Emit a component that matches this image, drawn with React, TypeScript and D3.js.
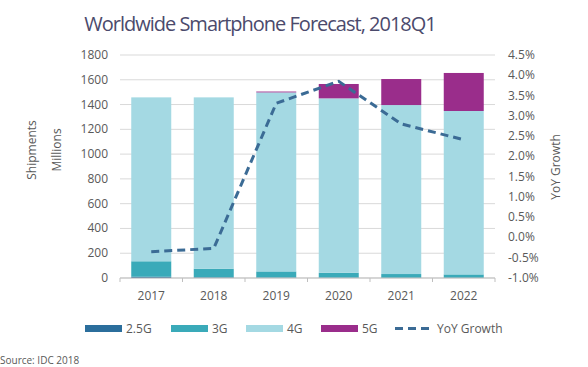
import React from "react";
import * as d3 from "d3";

const years = ["2017", "2018", "2019", "2020", "2021", "2022"];
const g25 = [10, 5, 3, 2, 1, 1];
const g3 = [125, 70, 50, 40, 31, 28];
const g4 = [1323, 1383, 1445, 1408, 1364, 1319];
const g5 = [0, 0, 7, 116, 210, 307];
const yoy = [-0.35, -0.27, 3.31, 3.85, 2.8, 2.41];
const leftTicks = [0, 200, 400, 600, 800, 1000, 1200, 1400, 1600, 1800];
const rightTicks = [-1, -0.5, 0, 0.5, 1, 1.5, 2, 2.5, 3, 3.5, 4, 4.5];

const seriesKeys = ["2.5G", "3G", "4G", "5G"];
const colors: Record<string, string> = {
  "2.5G": "#2b6e9c",
  "3G": "#3aaab9",
  "4G": "#a4d9e3",
  "5G": "#9a2d8b",
};
const lineColor = "#3b6b95";
const font = "'Open Sans', 'Noto Sans', sans-serif";

export default function App() {
  const left = 120, right = 495, top = 55, bottom = 278;

  const x = d3.scaleBand().domain(years).range([left, right]).paddingInner(0.36).paddingOuter(0.18);
  const y = d3.scaleLinear().domain([0, 1800]).range([bottom, top]);
  const y2 = d3.scaleLinear().domain([-1, 4.5]).range([bottom, top]);

  const rows = years.map((yr, i) => ({ year: yr, "2.5G": g25[i], "3G": g3[i], "4G": g4[i], "5G": g5[i] }));
  const stacked = d3.stack<any>().keys(seriesKeys)(rows);

  const line = d3
    .line<number>()
    .x((_, i) => (x(years[i]) as number) + x.bandwidth() / 2)
    .y((d) => y2(d));

  const step = x.step();
  const legend = [
    { key: "2.5G", x: 85 },
    { key: "3G", x: 171 },
    { key: "4G", x: 246 },
    { key: "5G", x: 321 },
  ];

  return (
    <svg width={588} height={367} style={{ position: "absolute", left: 0, top: 0, background: "#fff" }}>
      <text x={260} y={31} textAnchor="middle" fontFamily={font} fontSize={20} fill="#4b4a6c" letterSpacing={-1}>
        Worldwide Smartphone Forecast, 2018Q1
      </text>

      {leftTicks.map((t) => (
        <g key={"g" + t}>
          <line x1={left} x2={right} y1={y(t)} y2={y(t)} stroke="#d9d9d9" strokeWidth={1} />
          <text x={108} y={y(t) + 4} textAnchor="end" fontFamily={font} fontSize={12} fill="#595959">
            {t}
          </text>
        </g>
      ))}
      {rightTicks.map((t) => (
        <text key={"r" + t} x={508} y={y2(t) + 4} fontFamily={font} fontSize={12} fill="#595959">
          {t.toFixed(1) + "%"}
        </text>
      ))}

      {stacked.map((s) => (
        <g key={s.key} fill={colors[s.key]}>
          {s.map((d, i) => (
            <rect
              key={i}
              x={x(years[i])}
              y={y(d[1])}
              width={x.bandwidth()}
              height={Math.max(0, y(d[0]) - y(d[1]))}
            />
          ))}
        </g>
      ))}

      <line x1={left} x2={right} y1={bottom} y2={bottom} stroke="#bfbfbf" />
      {d3.range(years.length + 1).map((i) => (
        <line key={"t" + i} x1={left + i * step} x2={left + i * step} y1={bottom} y2={bottom + 4} stroke="#bfbfbf" />
      ))}
      {years.map((yr) => (
        <text
          key={"x" + yr}
          x={(x(yr) as number) + x.bandwidth() / 2}
          y={300}
          textAnchor="middle"
          fontFamily={font}
          fontSize={12}
          fill="#595959"
        >
          {yr}
        </text>
      ))}

      <path d={line(yoy) || ""} fill="none" stroke={lineColor} strokeWidth={3} strokeDasharray="8,5" />

      <text transform="translate(36,150) rotate(-90)" textAnchor="middle" fontFamily={font} fontSize={12} fill="#595959">
        Shipments
      </text>
      <text transform="translate(61,150) rotate(-90)" textAnchor="middle" fontFamily={font} fontSize={12} fill="#595959">
        Millions
      </text>
      <text transform="translate(560,167) rotate(-90)" textAnchor="middle" fontFamily={font} fontSize={12} fill="#595959">
        YoY Growth
      </text>

      {legend.map((l) => (
        <g key={"l" + l.key}>
          <rect x={l.x} y={325} width={37} height={7} fill={colors[l.key]} />
          <text x={l.x + 41} y={333} fontFamily={font} fontSize={12} fill="#595959">
            {l.key}
          </text>
        </g>
      ))}
      <line x1={395} x2={430} y1={328.5} y2={328.5} stroke={lineColor} strokeWidth={3} strokeDasharray="8,5" />
      <text x={437} y={333} fontFamily={font} fontSize={12} fill="#595959">
        YoY Growth
      </text>

      <text x={0} y={364} fontFamily={font} fontSize={10} fill="#595959">
        Source: IDC 2018
      </text>
    </svg>
  );
}
